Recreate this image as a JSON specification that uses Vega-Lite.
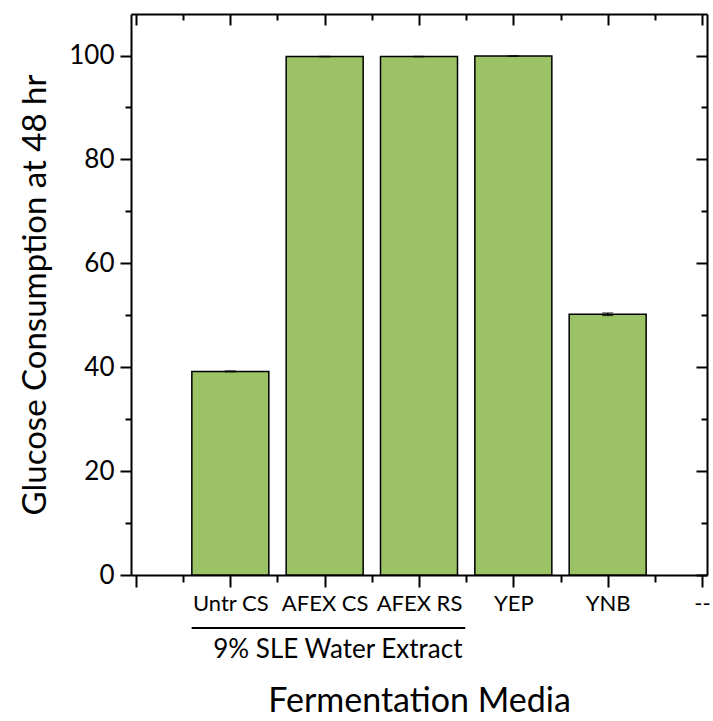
{
  "$schema": "https://vega.github.io/schema/vega-lite/v6.json",
  "autosize": {"type": "none"},
  "width": 576,
  "height": 561,
  "padding": {"left": 131, "top": 14, "right": 6, "bottom": 146},
  "background": "white",
  "config": {
    "font": "Lato",
    "view": {"stroke": null},
    "axis": {"grid": false, "domainColor": "black", "tickColor": "black", "labelColor": "black", "titleColor": "black", "domainWidth": 2, "tickWidth": 2, "labelFont": "Lato", "titleFont": "Lato", "titleFontWeight": "normal"}
  },
  "datasets": {
    "media": [
      {"slot": 1, "medium": "Untr CS", "glucose": 39.2, "low": 39.1, "high": 39.3},
      {"slot": 2, "medium": "AFEX CS", "glucose": 99.8, "low": 99.75, "high": 99.85},
      {"slot": 3, "medium": "AFEX RS", "glucose": 99.8, "low": 99.75, "high": 99.85},
      {"slot": 4, "medium": "YEP", "glucose": 99.9, "low": 99.85, "high": 99.95},
      {"slot": 5, "medium": "YNB", "glucose": 50.2, "low": 49.95, "high": 50.45}
    ],
    "groups": [
      {"group": "9% SLE Water Extract", "from": 0.59, "to": 3.49}
    ]
  },
  "layer": [
    {
      "data": {"name": "media"},
      "mark": {"type": "bar", "width": 77, "fill": "#9bc264", "stroke": "black", "strokeWidth": 1.5},
      "encoding": {
        "x": {
          "field": "slot", "type": "quantitative",
          "scale": {"domain": [0, 6], "nice": false, "zero": false},
          "axis": {
            "orient": "bottom", "values": [0, 1, 2, 3, 4, 5, 6], "tickSize": 12,
            "labelExpr": "['', 'Untr CS', 'AFEX CS', 'AFEX RS', 'YEP', 'YNB', '--'][datum.value]",
            "labelFontSize": 22, "labelPadding": 6, "labelFlush": false, "labelOverlap": false,
            "title": "Fermentation Media", "titleFontSize": 34, "titlePadding": 70
          }
        },
        "y": {
          "field": "glucose", "type": "quantitative",
          "scale": {"domain": [0, 108], "nice": false},
          "axis": {
            "orient": "left", "values": [0, 20, 40, 60, 80, 100], "tickSize": 11,
            "labelFontSize": 26, "labelPadding": 6,
            "title": "Glucose Consumption at 48 hr", "titleFontSize": 33, "titlePadding": 16
          }
        }
      }
    },
    {
      "data": {"name": "media"},
      "mark": {"type": "rule", "stroke": "black", "strokeWidth": 1.2},
      "encoding": {
        "x": {
          "field": "slot", "type": "quantitative",
          "axis": {"orient": "bottom", "values": [0.5, 1.5, 2.5, 3.5, 4.5, 5.5], "tickSize": 7, "labels": false, "domain": false, "title": null}
        },
        "y": {
          "field": "low", "type": "quantitative",
          "axis": {"orient": "left", "values": [10, 30, 50, 70, 90], "tickSize": 6, "labels": false, "domain": false, "title": null}
        },
        "y2": {"field": "high"}
      }
    },
    {
      "data": {"name": "media"},
      "mark": {"type": "tick", "orient": "horizontal", "size": 11, "thickness": 1.2, "color": "black"},
      "encoding": {
        "x": {
          "field": "slot", "type": "quantitative",
          "axis": {"orient": "top", "values": [0, 1, 2, 3, 4, 5, 6], "tickSize": -11, "labels": false, "title": null}
        },
        "y": {
          "field": "high", "type": "quantitative",
          "axis": {"orient": "right", "values": [0, 20, 40, 60, 80, 100], "tickSize": -11, "labels": false, "title": null}
        }
      }
    },
    {
      "data": {"name": "media"},
      "mark": {"type": "tick", "orient": "horizontal", "size": 11, "thickness": 1.2, "color": "black"},
      "encoding": {
        "x": {
          "field": "slot", "type": "quantitative",
          "axis": {"orient": "top", "values": [0.5, 1.5, 2.5, 3.5, 4.5, 5.5], "tickSize": -6, "labels": false, "domain": false, "title": null}
        },
        "y": {
          "field": "low", "type": "quantitative",
          "axis": {"orient": "right", "values": [10, 30, 50, 70, 90], "tickSize": -6, "labels": false, "domain": false, "title": null}
        }
      }
    },
    {
      "data": {"name": "groups"},
      "mark": {"type": "rule", "stroke": "black", "strokeWidth": 2, "clip": false},
      "encoding": {
        "x": {"field": "from", "type": "quantitative", "axis": null},
        "x2": {"field": "to"},
        "y": {"datum": -10.2, "type": "quantitative", "axis": null}
      }
    },
    {
      "data": {"name": "groups"},
      "mark": {"type": "text", "fontSize": 26, "font": "Lato", "color": "black", "baseline": "middle", "align": "center", "clip": false},
      "encoding": {
        "x": {"datum": 2.14, "type": "quantitative", "axis": null},
        "y": {"datum": -14.4, "type": "quantitative", "axis": null},
        "text": {"field": "group"}
      }
    }
  ],
  "resolve": {"axis": {"x": "independent", "y": "independent"}}
}
